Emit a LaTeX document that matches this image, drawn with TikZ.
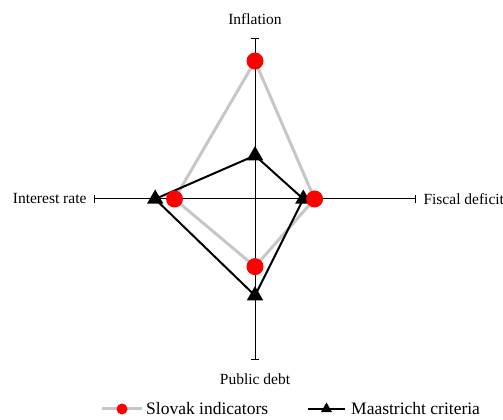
\documentclass[tikz,border=0pt]{standalone}
\usepackage{fontspec}
\setmainfont{Liberation Serif}
\usetikzlibrary{arrows.meta,positioning,shapes.geometric}

\begin{document}
\begin{tikzpicture}[
    x=1pt, y=1pt,
    font=\fontsize{15.5}{18}\selectfont,
    axisline/.style={
        line width=1pt,
        {Bar[width=8pt]}-{Bar[width=8pt]}
    },
    slkline/.style={
        line width=3pt,
        color=slkgray,
        line join=round
    },
    maaline/.style={
        line width=2pt,
        color=black,
        line join=miter
    },
    slkmark/.style={
        circle,
        fill=red,
        inner sep=0pt,
        minimum size=17pt
    },
    maamark/.style={
        regular polygon,
        regular polygon sides=3,
        fill=black,
        inner sep=0pt,
        minimum size=19pt
    },
    legtext/.style={
        font=\fontsize{17.5}{20}\selectfont,
        anchor=west,
        inner sep=0pt
    }
]

\colorlet{slkgray}{black!22}

\useasboundingbox (0,0) rectangle (503,420);

\begin{scope}[shift={(255,221)}]
    \def\rad{161}

    % axes
    \coordinate (axT) at (0, \rad);
    \coordinate (axB) at (0,-\rad);
    \coordinate (axL) at (-\rad,0);
    \coordinate (axR) at ( \rad,0);

    \draw[axisline] (axL) -- (axR);
    \draw[axisline] (axT) -- (axB);

    \node[above=10pt of axT] (lblInfl) {Inflation};
    \node[below=10pt of axB] (lblDebt) {Public debt};
    \node[left=4pt of axL]   (lblRate) {Interest rate};
    \node[right=4pt of axR]  (lblDef)  {Fiscal deficit};

    % Slovak indicators
    \coordinate (sT) at (0, 0.857*\rad);
    \coordinate (sR) at (0.37*\rad, 0);
    \coordinate (sB) at (0,-0.42*\rad);
    \coordinate (sL) at (-0.50*\rad, 0);

    % Maastricht criteria
    \coordinate (mT) at (0, 0.27*\rad);
    \coordinate (mR) at (0.30*\rad, 0);
    \coordinate (mB) at (0,-0.60*\rad);
    \coordinate (mL) at (-0.62*\rad, 0);

    \draw[slkline] (sT) -- (sR) -- (sB) -- (sL) -- cycle;
    \draw[maaline] (mT) -- (mR) -- (mB) -- (mL) -- cycle;

    \foreach \p in {T,R,B,L} {
        \node[maamark] (mk-m\p) at (m\p) {};
        \node[slkmark] (mk-s\p) at (s\p) {};
    }
\end{scope}

% legend
\coordinate (lgA) at (102,11);
\coordinate (lgB) at (142,11);
\draw[slkline] (lgA) -- (lgB);
\node[slkmark, minimum size=11pt] (lgS) at (122,11) {};
\node[legtext] (lgSt) at (146,11) {Slovak indicators};

\coordinate (lgC) at (308,11);
\coordinate (lgD) at (345,11);
\draw[maaline] (lgC) -- (lgD);
\node[maamark, minimum size=13pt] (lgM) at (326.5,11) {};
\node[legtext] (lgMt) at (351,11) {Maastricht criteria};

\end{tikzpicture}
\end{document}
